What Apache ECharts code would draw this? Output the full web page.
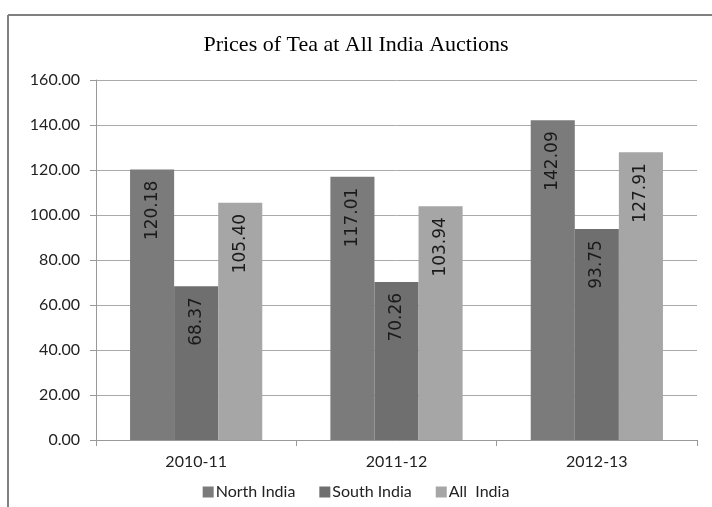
<!DOCTYPE html>
<html>
<head>
<meta charset="utf-8">
<script src="https://cdn.jsdelivr.net/npm/echarts@6/dist/echarts.min.js"></script>
<style>
html,body{margin:0;padding:0;background:#fff;}
#chart{width:712px;height:507px;}
</style>
</head>
<body>
<div id="chart"></div>
<script>
const categories = ['2010-11', '2011-12', '2012-13'];
const northIndia = [120.18, 117.01, 142.09];
const southIndia = [68.37, 70.26, 93.75];
const allIndia = [105.40, 103.94, 127.91];
const seriesNames = ['North India', 'South India', 'All  India'];
const yTicks = { min: 0, max: 160, interval: 20 };

const chart = echarts.init(document.getElementById('chart'));
const labelStyle = {
  show: true,
  position: 'insideTop',
  rotate: 90,
  align: 'right',
  verticalAlign: 'middle',
  distance: 11,
  fontFamily: 'DejaVu Sans',
  fontSize: 17,
  color: '#1a1a1a',
  formatter: p => p.value.toFixed(2)
};
function mk(name, data, color) {
  return {
    name: name, type: 'bar', data: data,
    barGap: '0%', barCategoryGap: '34%',
    itemStyle: { color: color },
    label: labelStyle
  };
}
chart.setOption({
  animation: false,
  backgroundColor: '#fff',
  title: {
    text: 'Prices of Tea at All India Auctions',
    left: 'center', top: 29,
    textStyle: { fontFamily: 'Liberation Serif', fontSize: 22, fontWeight: 'normal', color: '#000' }
  },
  graphic: [
    { type: 'line', shape: { x1: 8, y1: 15, x2: 712, y2: 15 }, style: { stroke: '#808080', lineWidth: 2 } },
    { type: 'line', shape: { x1: 8, y1: 15, x2: 8, y2: 507 }, style: { stroke: '#808080', lineWidth: 2 } }
  ],
  legend: {
    bottom: 2, left: 'center',
    itemWidth: 11, itemHeight: 11, itemGap: 24,
    icon: 'rect',
    textStyle: { fontFamily: 'Lato', fontSize: 16, color: '#222', padding: [0, 0, 0, -3] },
    data: seriesNames
  },
  grid: { left: 96, right: 15, top: 80, bottom: 67 },
  xAxis: {
    type: 'category', data: categories,
    axisLine: { lineStyle: { color: '#999' } },
    axisTick: { show: true, length: 6, lineStyle: { color: '#999' } },
    axisLabel: { fontFamily: 'Lato', fontSize: 16, color: '#222', margin: 14 }
  },
  yAxis: {
    type: 'value', min: yTicks.min, max: yTicks.max, interval: yTicks.interval,
    axisLine: { show: true, lineStyle: { color: '#999' } },
    axisTick: { show: true, length: 6, lineStyle: { color: '#999' } },
    splitLine: { lineStyle: { color: '#aaa' } },
    axisLabel: { fontFamily: 'Lato', fontSize: 16, color: '#222', margin: 16, formatter: v => v.toFixed(2) }
  },
  series: [
    mk(seriesNames[0], northIndia, '#7b7b7b'),
    mk(seriesNames[1], southIndia, '#6f6f6f'),
    mk(seriesNames[2], allIndia, '#a6a6a6')
  ]
});
</script>
</body>
</html>
